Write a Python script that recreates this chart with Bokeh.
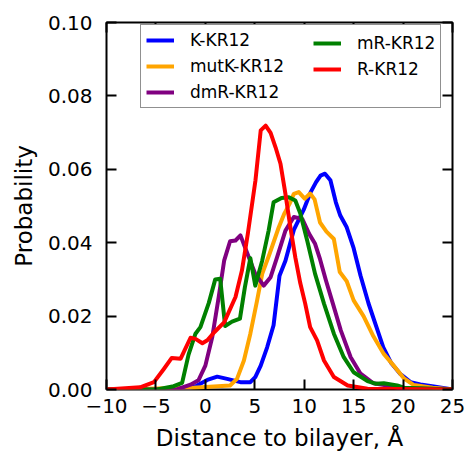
from bokeh.plotting import figure
from bokeh.models import Legend, LegendItem, LinearAxis, FixedTicker, Range1d
from bokeh.embed import file_html
from bokeh.resources import INLINE

# ---- data ----
x_ticks = [-10, -5, 0, 5, 10, 15, 20, 25]
x_tick_labels = ["\u221210", "\u22125", "0", "5", "10", "15", "20", "25"]
y_ticks = [0.0, 0.02, 0.04, 0.06, 0.08, 0.10]
y_tick_labels = ["0.00", "0.02", "0.04", "0.06", "0.08", "0.10"]
x_label = "Distance to bilayer, \u00c5"
y_label = "Probability"

k_x = [-10, -2, -0.9, 0.2, 1.2, 2.2, 3.55, 4.55, 5.05, 5.6, 6.25, 6.9, 7.5, 8.1, 8.95,
       9.95, 10.6, 11.2, 11.65, 12.1, 12.65, 13.2, 13.65, 14.3, 15.0, 15.7, 16.5, 17.2,
       18.0, 18.8, 19.7, 20.75, 21.75, 23.1, 25]
k_y = [0, 0, 0.001, 0.0026, 0.0035, 0.0029, 0.002, 0.002, 0.0034, 0.0065, 0.0115, 0.0175,
       0.031, 0.0351, 0.0435, 0.049, 0.0535, 0.0565, 0.0583, 0.0588, 0.057, 0.051, 0.0474,
       0.0442, 0.0385, 0.031, 0.0235, 0.0179, 0.0115, 0.0072, 0.0043, 0.002, 0.0014, 0.0008, 0]

mutk_x = [-10, -1.2, 2.5, 3.2, 3.9, 4.55, 5.2, 5.75, 6.5, 7.4, 8.0, 8.5, 8.95, 9.45, 10.05,
          10.6, 11.05, 11.6, 12.25, 13.0, 13.6, 14.3, 15.0, 16.0, 17.0, 18.05, 19.05, 20.1,
          21.1, 23.0, 25]
mutk_y = [0, 0.0005, 0.0011, 0.0029, 0.0079, 0.0152, 0.0238, 0.0315, 0.037, 0.044, 0.048,
          0.0505, 0.0533, 0.0538, 0.052, 0.0534, 0.0518, 0.0455, 0.043, 0.041, 0.032, 0.0295,
          0.0243, 0.02, 0.0145, 0.0097, 0.0065, 0.003, 0.0012, 0.0005, 0]

dmr_x = [-10, -2.9, -1.5, -0.7, 0.0, 0.7, 1.35, 1.9, 2.5, 3.05, 3.55, 4.2, 5.05, 5.9, 6.6,
         7.25, 8.1, 8.95, 9.8, 10.5, 11.1, 11.6, 12.2, 12.9, 13.7, 14.7, 15.7, 17.0, 18.4,
         19.5, 25]
dmr_y = [0, 0, 0.0013, 0.0025, 0.0065, 0.0143, 0.0252, 0.0351, 0.0404, 0.0406, 0.042, 0.0374,
         0.0315, 0.0283, 0.0306, 0.036, 0.0433, 0.047, 0.0465, 0.0424, 0.0397, 0.0355, 0.0297,
         0.0234, 0.0161, 0.0088, 0.0043, 0.0017, 0.0011, 0.0004, 0]

mr_x = [-10, -4.9, -3.2, -2.35, -1.7, -1.0, -0.5, 0.35, 1.0, 1.5, 2.0, 2.7, 3.5, 4.0, 4.55,
        5.05, 5.75, 6.4, 6.9, 7.7, 8.45, 9.1, 9.6, 10.3, 11.1, 12.0, 13.0, 14.0, 15.0, 16.4,
        17.2, 18.05, 19.4, 20.1, 25]
mr_y = [0, 0, 0.0009, 0.0018, 0.0095, 0.0152, 0.017, 0.0236, 0.03, 0.0302, 0.0173, 0.0185,
        0.0193, 0.0279, 0.0358, 0.0283, 0.0351, 0.0433, 0.051, 0.0522, 0.0524, 0.0515, 0.048,
        0.0406, 0.0315, 0.0234, 0.0152, 0.0088, 0.0047, 0.0023, 0.0016, 0.0017, 0.0011, 0.0005, 0]

r_x = [-10, -6.6, -5.2, -4.2, -3.4, -2.5, -1.5, -1.0, -0.3, 0.2, 0.9, 1.9, 3.05, 3.7, 4.3,
       5.07, 5.6, 6.1, 6.6, 7.1, 7.6, 8.1, 8.6, 9.1, 9.6, 10.1, 10.6, 11.3, 12.0, 13.0, 14.4,
       16.4, 25]
r_y = [0, 0.0006, 0.002, 0.0056, 0.0086, 0.0084, 0.0141, 0.0138, 0.0126, 0.0134, 0.0156,
       0.0183, 0.0252, 0.0324, 0.0425, 0.057, 0.0706, 0.0719, 0.0699, 0.066, 0.0615, 0.0533,
       0.0442, 0.036, 0.029, 0.0234, 0.017, 0.0134, 0.0079, 0.0034, 0.0011, 0.0002, 0]

series = [
    ("K-KR12", k_x, k_y, "blue"),
    ("mutK-KR12", mutk_x, mutk_y, "orange"),
    ("dmR-KR12", dmr_x, dmr_y, "purple"),
    ("mR-KR12", mr_x, mr_y, "green"),
    ("R-KR12", r_x, r_y, "red"),
]

FONT = "DejaVu Sans"

p = figure(width=468, height=458, x_range=Range1d(-10, 25), y_range=Range1d(0, 0.1),
           output_backend="svg", toolbar_location=None,
           min_border_left=106, min_border_right=16, min_border_top=22, min_border_bottom=69)
p.xgrid.visible = False
p.ygrid.visible = False
p.outline_line_color = "black"
p.outline_line_width = 2
p.background_fill_color = "white"
p.border_fill_color = "white"

renderers = {}
for name, xs, ys, col in series:
    renderers[name] = p.line(xs, ys, line_color=col, line_width=4, line_join="round")

def style_axis(ax, labels, standoff=10):
    ax.axis_line_color = None
    ax.major_tick_in = 10
    ax.major_tick_out = 0
    ax.major_tick_line_width = 2
    ax.major_tick_line_color = "black"
    ax.minor_tick_line_color = None
    ax.major_label_text_font = FONT
    if labels:
        ax.major_label_text_font_size = "20px"
        ax.major_label_text_color = "black"
        ax.major_label_standoff = standoff
    else:
        ax.major_label_text_font_size = "0px"
        ax.major_label_text_color = None
        ax.major_label_standoff = 0
        ax.axis_label_standoff = 0

xax = p.below[0]
xax.ticker = FixedTicker(ticks=x_ticks)
xax.major_label_overrides = dict(zip(x_ticks, x_tick_labels))
style_axis(xax, True, 9)
xax.axis_label = x_label
xax.axis_label_text_font = FONT
xax.axis_label_text_font_style = "normal"
xax.axis_label_text_font_size = "23px"
xax.axis_label_text_color = "black"
xax.axis_label_standoff = 9

yax = p.left[0]
yax.ticker = FixedTicker(ticks=y_ticks)
yax.major_label_overrides = dict(zip(y_ticks, y_tick_labels))
style_axis(yax, True, 14)
yax.axis_label = y_label
yax.axis_label_text_font = FONT
yax.axis_label_text_font_style = "normal"
yax.axis_label_text_font_size = "23px"
yax.axis_label_text_color = "black"
yax.axis_label_standoff = 8

top = LinearAxis(ticker=FixedTicker(ticks=x_ticks))
style_axis(top, False)
p.add_layout(top, "above")
right = LinearAxis(ticker=FixedTicker(ticks=y_ticks))
style_axis(right, False)
p.add_layout(right, "right")

def make_legend(names, loc, boxed, label_width):
    leg = Legend(items=[LegendItem(label=n, renderers=[renderers[n]]) for n in names],
                 location=loc, orientation="vertical")
    leg.label_text_font = FONT
    leg.label_text_font_size = "17px"
    leg.label_text_color = "black"
    leg.label_standoff = 16
    leg.glyph_width = 28
    leg.glyph_height = 18
    leg.label_height = 18
    leg.label_width = label_width
    leg.spacing = 6
    leg.padding = 5
    leg.margin = 0
    if boxed:
        leg.border_line_color = "#222222"
        leg.border_line_width = 1.5
        leg.background_fill_color = "white"
        leg.background_fill_alpha = 1
    else:
        leg.border_line_color = None
        leg.background_fill_alpha = 0
    return leg

leg_a = make_legend(["K-KR12", "mutK-KR12", "dmR-KR12"], (34, 281), True, 245)
leg_b = make_legend(["mR-KR12", "R-KR12"], (207, 310), False, 20)
p.add_layout(leg_a)
p.add_layout(leg_b)

open("out.html", "w").write(file_html(p, INLINE))
